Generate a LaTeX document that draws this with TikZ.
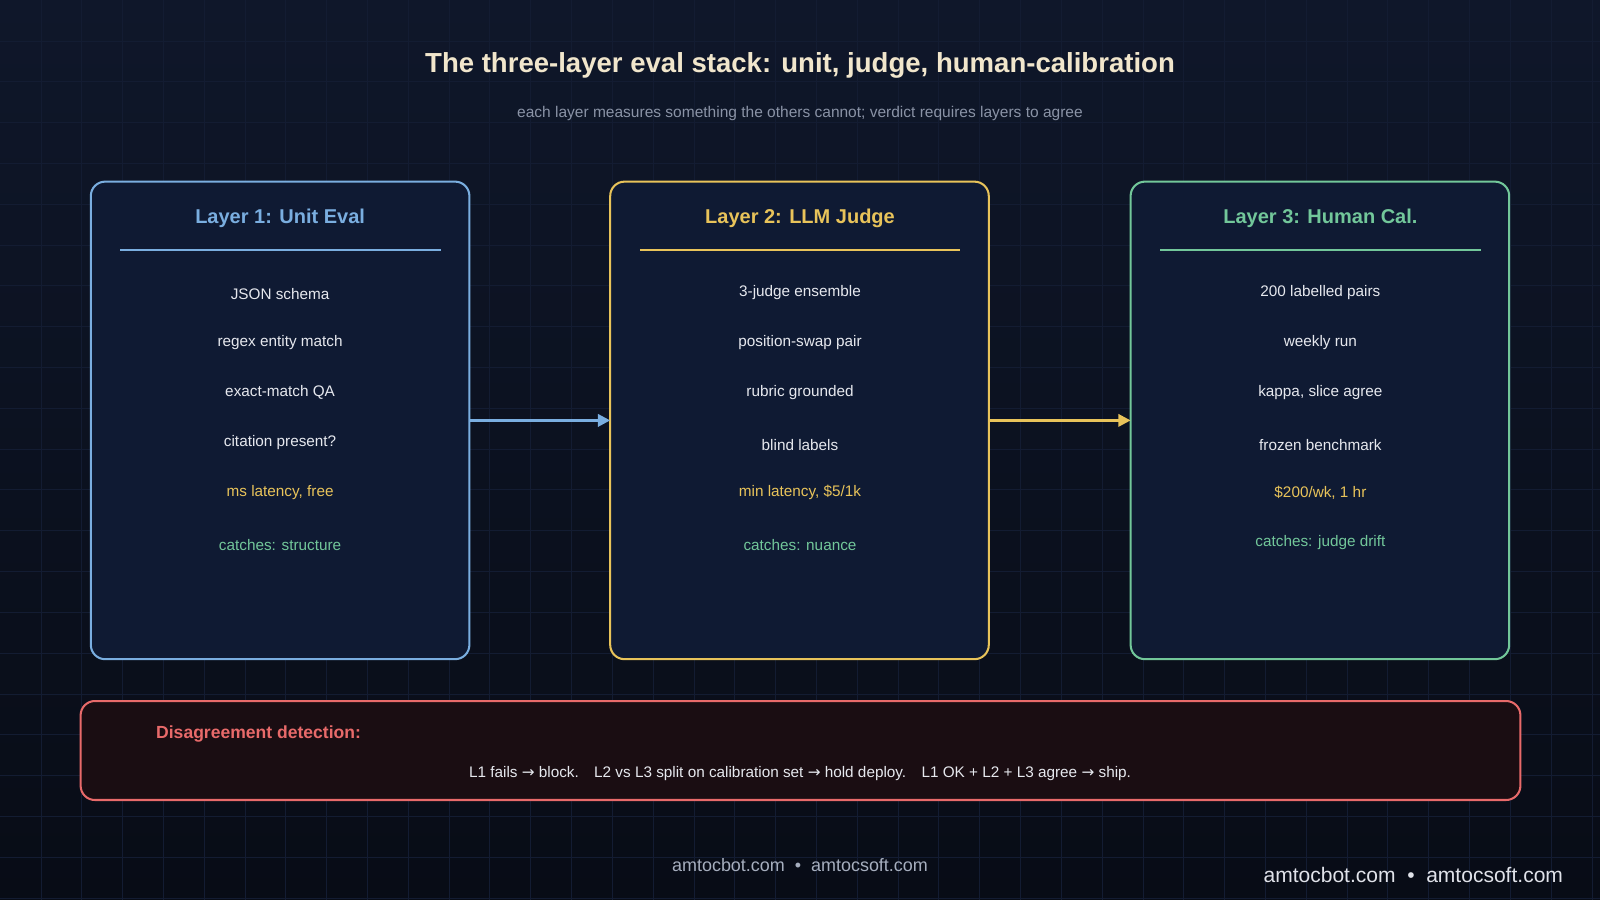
\documentclass[tikz,border=0pt]{standalone}
\usepackage{fontspec}
\setmainfont{Liberation Sans}
\newfontfamily\djv{DejaVu Sans}
\usetikzlibrary{arrows.meta}
\definecolor{bgtop}{HTML}{0F172A}
\definecolor{bgbot}{HTML}{080C16}
\definecolor{gridc}{HTML}{131C32}
\definecolor{boxf}{HTML}{0F1A33}
\definecolor{cblue}{HTML}{7AAEE0}
\definecolor{cyel}{HTML}{E8C35A}
\definecolor{cgrn}{HTML}{72C79A}
\definecolor{cred}{HTML}{E86A6A}
\definecolor{redf}{HTML}{1A0D12}
\definecolor{titc}{HTML}{F1E6CC}
\definecolor{subc}{HTML}{8A93A6}
\definecolor{itemc}{HTML}{E6E8EE}
\definecolor{footc}{HTML}{A6AEBE}
\begin{document}
\begin{tikzpicture}[x=0.5pt,y=-0.5pt,
  lay/.style={draw=#1,line width=1pt,fill=boxf,rounded corners=7pt},
  item/.style={text=itemc,font=\fontsize{7.5}{9}\selectfont},
  ltit/.style={text=#1,font=\bfseries\fontsize{9.8}{12}\selectfont},
  arr/.style={draw=#1,line width=1.3pt,-{Triangle[length=6pt,width=6pt]}}]
\useasboundingbox (0,0) rectangle (1568,882);
\shade[top color=bgtop,bottom color=bgbot] (0,0) rectangle (1568,882);
\foreach \x in {40,80,...,1560} \draw[gridc,line width=0.3pt] (\x,0)--(\x,882);
\foreach \y in {40,80,...,880} \draw[gridc,line width=0.3pt] (0,\y)--(1568,\y);
\node[text=titc,font=\bfseries\fontsize{13.5}{16}\selectfont] (title) at (784,64) {The three-layer eval stack: unit, judge, human-calibration};
\node[text=subc,font=\fontsize{7.6}{9}\selectfont] (sub) at (784,111) {each layer measures something the others cannot; verdict requires layers to agree};
\foreach \n/\x/\c in {b1/89/cblue,b2/598/cyel,b3/1108/cgrn}{
  \draw[lay=\c] (\x,178) rectangle ++(371,468);
  \draw[\c,line width=0.8pt] (\x+29,245) -- (\x+343,245);
}
\coordinate (b1r) at (460,412); \coordinate (b2l) at (598,412);
\coordinate (b2r) at (970,412); \coordinate (b3l) at (1108,412);
\draw[arr=cblue] (b1r) -- (b2l);
\draw[arr=cyel] (b2r) -- (b3l);
\node[ltit=cblue] (t1) at (274.5,214) {Layer 1: Unit Eval};
\node[ltit=cyel] (t2) at (784,214) {Layer 2: LLM Judge};
\node[ltit=cgrn] (t3) at (1294,214) {Layer 3: Human Cal.};
\node[item] (a1) at (274.5,288) {JSON schema};
\node[item] (a2) at (274.5,336) {regex entity match};
\node[item] (a3) at (274.5,385) {exact-match QA};
\node[item] (a4) at (274.5,434) {citation present?};
\node[item,text=cyel] (a5) at (274.5,483) {ms latency, free};
\node[item,text=cgrn] (a6) at (274.5,534) {catches: structure};
\node[item] (m1) at (784,287) {3-judge ensemble};
\node[item] (m2) at (784,336) {position-swap pair};
\node[item] (m3) at (784,385) {rubric grounded};
\node[item] (m4) at (784,436) {blind labels};
\node[item,text=cyel] (m5) at (784,483) {min latency, \$5/1k};
\node[item,text=cgrn] (m6) at (784,534) {catches: nuance};
\node[item] (h1) at (1294,287) {200 labelled pairs};
\node[item] (h2) at (1294,336) {weekly run};
\node[item] (h3) at (1294,385) {kappa, slice agree};
\node[item] (h4) at (1294,436) {frozen benchmark};
\node[item,text=cyel] (h5) at (1294,483) {\$200/wk, 1 hr};
\node[item,text=cgrn] (h6) at (1294,532) {catches: judge drift};
\draw[draw=cred,line width=1pt,fill=redf,rounded corners=7pt] (79,687) rectangle (1490,784);
\node[anchor=west,text=cred,font=\bfseries\fontsize{8.6}{10}\selectfont] (dt) at (146,719) {Disagreement detection:};
\node[item] (dl) at (784,758) {L1 fails {\djv →} block.\quad L2 vs L3 split on calibration set {\djv →} hold deploy.\quad L1 OK + L2 + L3 agree {\djv →} ship.};
\node[text=footc,font=\fontsize{8.8}{10}\selectfont] (f1) at (784,848) {amtocbot.com\ \ •\ \ amtocsoft.com};
\node[text=itemc!90!footc,font=\fontsize{10.3}{12}\selectfont] (f2) at (1385,857) {amtocbot.com\ \ •\ \ amtocsoft.com};
\end{tikzpicture}
\end{document}
